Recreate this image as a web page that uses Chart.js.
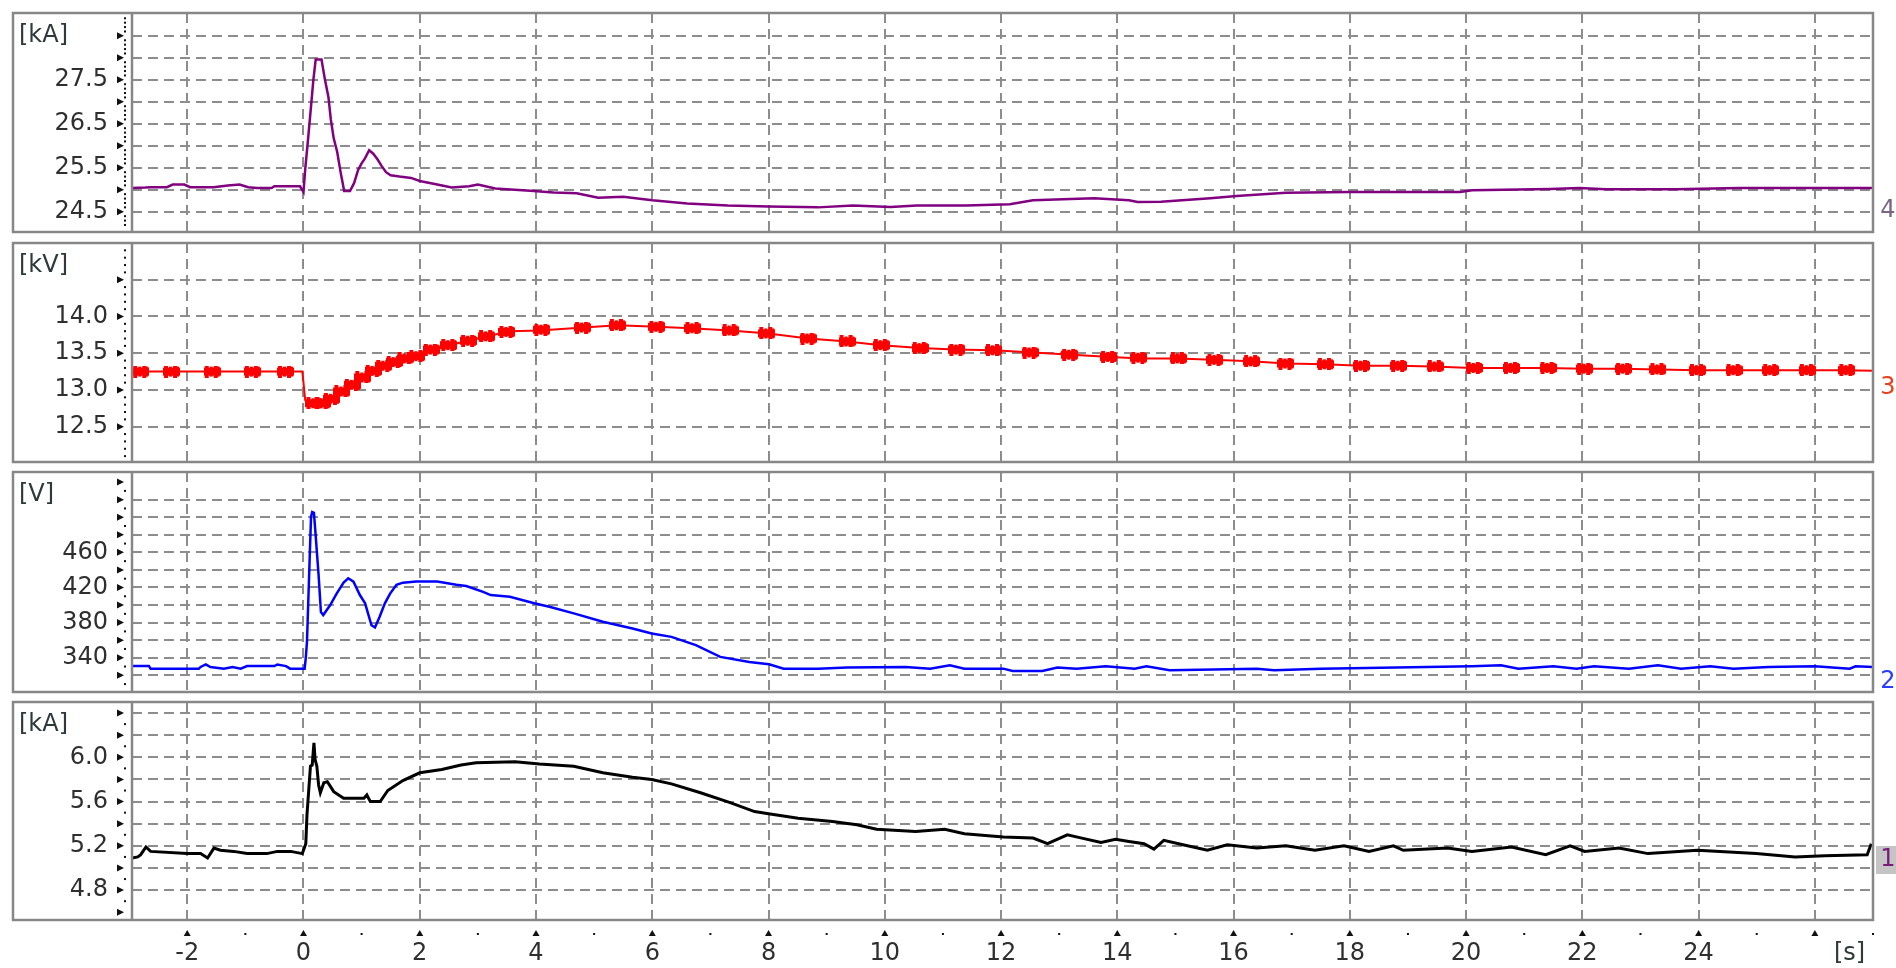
<!DOCTYPE html>
<html>
<head>
<meta charset="utf-8">
<script src="https://cdn.jsdelivr.net/npm/chart.js@4.4.0/dist/chart.umd.min.js"></script>
<style>
  html, body { margin: 0; padding: 0; background: #ffffff; }
  #wrap { position: relative; width: 1896px; height: 968px; overflow: hidden; background: #ffffff; }
  .panel { position: absolute; left: 0; }
  canvas { display: block; }
</style>
</head>
<body>
<div id="wrap">
  <div class="panel" style="top:10px"><canvas id="ch4" width="1896" height="225"></canvas></div>
  <div class="panel" style="top:240px"><canvas id="ch3" width="1896" height="225"></canvas></div>
  <div class="panel" style="top:469px"><canvas id="ch2" width="1896" height="226"></canvas></div>
  <div class="panel" style="top:699px"><canvas id="ch1" width="1896" height="269"></canvas></div>
</div>
<script>
// ---- time axis (s) ----
const timeTicks  = [-2, 0, 2, 4, 6, 8, 10, 12, 14, 16, 18, 20, 22, 24, 26];
const timeLabels = ['-2', '0', '2', '4', '6', '8', '10', '12', '14', '16', '18', '20', '22', '24', ''];
const timeMin = -2.95, timeMax = 27.0;

// ---- channel 4: current [kA] ----
const ch4Time = [-2.95,-2.72,-2.62,-2.35,-2.25,-2.05,-1.95,-1.55,-1.3,-1.1,-0.95,-0.8,-0.55,-0.5,-0.06,0.0,0.03,0.08,0.13,0.17,0.21,0.31,0.37,0.43,0.47,0.52,0.58,0.64,0.7,0.8,0.87,0.94,1.0,1.06,1.13,1.2,1.27,1.34,1.42,1.5,1.65,1.85,2.0,2.3,2.55,2.85,3.0,3.3,3.9,4.3,4.7,5.07,5.5,6.0,6.6,7.3,8.0,8.85,9.45,10.1,10.55,11.4,12.15,12.55,13.2,13.6,14.2,14.35,14.75,15.6,16.05,16.9,18.0,19.9,20.1,21.45,21.95,22.4,23.6,24.7,27.0];
const ch4Val  = [25.04,25.05,25.06,25.06,25.12,25.12,25.06,25.06,25.1,25.12,25.06,25.04,25.04,25.08,25.08,24.95,25.47,26.17,26.9,27.5,27.96,27.96,27.5,27.1,26.6,26.17,25.86,25.39,24.97,24.97,25.15,25.45,25.6,25.72,25.9,25.82,25.7,25.55,25.4,25.33,25.3,25.27,25.2,25.12,25.05,25.08,25.12,25.03,24.98,24.94,24.92,24.82,24.84,24.76,24.69,24.64,24.62,24.6,24.64,24.61,24.64,24.64,24.67,24.76,24.79,24.81,24.76,24.72,24.73,24.81,24.86,24.93,24.95,24.95,24.99,25.02,25.04,25.01,25.01,25.04,25.04];
const ch4Grid       = [24.5, 25, 25.5, 26, 26.5, 27, 27.5, 28, 28.5];
const ch4GridLabels = ['24.5', '', '25.5', '', '26.5', '', '27.5', '', ''];

// ---- channel 3: voltage [kV] ----
const ch3Time = [-2.95,-0.02,0.0,0.03,0.1,0.35,0.5,0.81,1.1,1.29,1.67,2.0,2.21,2.88,3.55,4.06,4.82,5.4,6.08,6.66,7.34,8.0,8.68,9.35,9.94,10.61,11.2,11.87,12.55,13.22,13.89,14.4,15.05,15.64,16.3,16.9,17.58,18.17,18.84,19.43,20.1,20.78,21.37,22.04,22.7,23.3,23.98,24.65,25.24,25.83,26.5,27.0];
const ch3Val  = [13.25,13.25,13.1,12.86,12.82,12.82,12.9,13.09,13.23,13.3,13.43,13.46,13.55,13.68,13.8,13.81,13.85,13.88,13.86,13.84,13.81,13.77,13.7,13.66,13.61,13.57,13.55,13.54,13.51,13.48,13.45,13.43,13.43,13.41,13.39,13.36,13.35,13.33,13.33,13.32,13.3,13.3,13.3,13.29,13.29,13.28,13.27,13.27,13.27,13.27,13.27,13.26];
// ripple bursts riding on the kV trace
const ch3BurstTime = [-2.8,-2.27,-1.57,-0.88,-0.31,0.18,0.32,0.48,0.66,0.84,1.02,1.2,1.38,1.56,1.75,1.95,2.2,2.5,2.84,3.15,3.5,4.1,4.8,5.4,6.08,6.7,7.34,7.97,8.68,9.35,9.94,10.61,11.24,11.87,12.5,13.18,13.85,14.37,15.05,15.68,16.31,16.9,17.58,18.2,18.84,19.47,20.14,20.78,21.41,22.04,22.71,23.3,23.98,24.61,25.24,25.87,26.55];
const ch3BurstVal  = [13.25,13.25,13.25,13.25,13.25,12.82,12.82,12.88,12.98,13.07,13.17,13.26,13.33,13.38,13.43,13.46,13.55,13.61,13.67,13.73,13.79,13.82,13.85,13.88,13.86,13.84,13.81,13.77,13.7,13.66,13.61,13.57,13.55,13.54,13.51,13.48,13.45,13.44,13.43,13.41,13.39,13.36,13.35,13.33,13.33,13.32,13.3,13.3,13.3,13.29,13.29,13.28,13.27,13.27,13.27,13.27,13.27];
const ch3Grid       = [12.5, 13, 13.5, 14, 14.5];
const ch3GridLabels = ['12.5', '13.0', '13.5', '14.0', ''];

// ---- channel 2: voltage [V] ----
const ch2Time = [-2.95,-2.66,-2.63,-1.8,-1.77,-1.68,-1.6,-1.37,-1.22,-1.08,-0.97,-0.5,-0.45,-0.3,-0.23,0.02,0.04,0.06,0.1,0.13,0.15,0.18,0.2,0.26,0.3,0.34,0.46,0.57,0.69,0.77,0.86,0.97,1.06,1.11,1.17,1.23,1.31,1.4,1.49,1.6,1.71,1.94,2.3,2.63,2.8,3.09,3.22,3.55,3.97,4.23,4.65,5.15,5.66,5.99,6.33,6.75,7.17,7.67,8.01,8.26,8.85,9.35,10.36,10.78,11.12,11.37,12.04,12.2,12.71,12.97,13.3,13.8,14.3,14.5,14.9,16.4,16.7,17.5,20.1,20.6,20.9,21.5,21.9,22.2,22.8,23.3,23.7,24.2,24.6,25.2,26.0,26.6,26.7,27.0];
const ch2Val  = [330.7,330.7,327.6,327.6,329.5,332.5,329.5,327.6,329.5,327.6,330.5,330.5,332.3,330.5,327.6,327.6,340,358,440,501,506,505,487.6,434,392,388.6,400,413,425.5,430.5,426.7,411.4,402,390.5,377,374.5,386.7,402,413,423,425.5,426.7,426.7,423,421.7,415,411.4,409.5,402,398,390.5,381,373.3,367.6,363.8,354.3,341,335.2,332.6,327.6,327.6,328.8,329.5,327.6,331.4,327.6,327.6,325,325,328.8,327.6,330.3,327.6,330.3,325.7,327.6,325.7,327.6,330.3,331.4,327.6,330.3,327.6,330.3,327.6,331.4,327.6,330.3,327.6,329.5,330.3,327.6,330.3,329.5];
const ch2Grid       = [320, 340, 360, 380, 400, 420, 440, 460, 480, 500, 520];
const ch2GridLabels = ['', '340', '', '380', '', '420', '', '460', '', '', ''];

// ---- channel 1: current [kA] ----
const ch1Time = [-2.95,-2.85,-2.8,-2.71,-2.63,-2.0,-1.77,-1.65,-1.54,-1.43,-1.2,-0.97,-0.63,-0.45,-0.22,-0.02,0.04,0.06,0.12,0.15,0.18,0.2,0.23,0.26,0.29,0.35,0.41,0.46,0.52,0.69,1.04,1.09,1.15,1.32,1.45,1.71,2.0,2.38,2.71,2.97,3.64,4.06,4.65,5.15,5.66,5.99,6.33,6.83,7.34,7.76,8.0,8.51,9.1,9.52,9.86,10.53,11.03,11.37,12.04,12.55,12.8,13.14,13.39,13.72,13.97,14.2,14.46,14.63,14.8,15.13,15.55,15.89,16.4,16.9,17.4,17.9,18.33,18.75,18.92,19.68,20.1,20.78,21.37,21.79,22.04,22.63,23.13,23.98,24.99,25.66,26.17,26.9,26.97];
const ch1Val  = [5.09,5.1,5.12,5.19,5.15,5.13,5.13,5.09,5.18,5.16,5.15,5.13,5.13,5.15,5.15,5.13,5.22,5.48,5.92,5.93,6.13,5.98,5.92,5.75,5.68,5.77,5.78,5.74,5.69,5.63,5.63,5.66,5.6,5.6,5.7,5.79,5.86,5.89,5.93,5.95,5.96,5.94,5.92,5.86,5.82,5.8,5.76,5.68,5.59,5.51,5.49,5.45,5.42,5.39,5.35,5.33,5.35,5.31,5.28,5.27,5.22,5.3,5.27,5.23,5.26,5.24,5.22,5.17,5.25,5.21,5.16,5.21,5.18,5.2,5.16,5.2,5.15,5.2,5.16,5.18,5.15,5.19,5.12,5.2,5.15,5.18,5.13,5.16,5.13,5.1,5.11,5.12,5.22];
const ch1Grid       = [4.8, 5.0, 5.2, 5.4, 5.6, 5.8, 6.0, 6.2, 6.4];
const ch1GridLabels = ['4.8', '', '5.2', '', '5.6', '', '6.0', '', ''];

// ---------------------------------------------------------------
Chart.defaults.font.family = '"DejaVu Sans", "Liberation Sans", sans-serif';

const FONT = '24px "DejaVu Sans", sans-serif';
const GRID_COLOR = '#8d8d8d';
const FRAME_COLOR = '#878787';
const FRAME_LEFT = 13;

const pairs = (t, v) => t.map((x, i) => ({ x, y: v[i] }));

// solid, ragged-edged block used for the ripple bursts on the kV trace
function burstSprite(color) {
  const c = document.createElement('canvas');
  c.width = 17; c.height = 12;
  const g = c.getContext('2d');
  g.fillStyle = color;
  g.fillRect(0, 2, 17, 8);
  g.fillRect(1, 0, 4, 12);
  g.fillRect(6, 1, 3, 10);
  g.fillRect(10, 0, 4, 12);
  g.fillRect(14, 1, 2, 10);
  return c;
}

// frame, unit caption, axis tick glyphs and channel tag for one panel
function panelDecor(p) {
  return {
    id: 'panelDecor',
    afterDraw(chart) {
      const { ctx, chartArea: a, scales: { x, y } } = chart;
      ctx.save();

      // frame + divider between caption column and plot
      ctx.strokeStyle = FRAME_COLOR;
      ctx.lineWidth = 2.5;
      ctx.strokeRect(FRAME_LEFT, a.top, a.right - FRAME_LEFT, a.bottom - a.top);
      ctx.beginPath();
      ctx.moveTo(a.left, a.top);
      ctx.lineTo(a.left, a.bottom);
      ctx.stroke();

      // unit caption
      ctx.font = FONT;
      ctx.fillStyle = '#2e3a3a';
      ctx.textAlign = 'left';
      ctx.textBaseline = 'middle';
      ctx.fillText(p.unit, 19, a.top + 23);

      // y-axis glyphs: arrow heads on major steps, dots on minor steps
      ctx.fillStyle = '#111111';
      const eps = p.minorStep / 100;
      const k0 = Math.ceil(y.min / p.minorStep), k1 = Math.floor(y.max / p.minorStep);
      for (let k = k0; k <= k1; k++) {
        const v = k * p.minorStep;
        const py = y.getPixelForValue(v);
        if (py < a.top + 3 || py > a.bottom - 3) continue;
        const r = v / p.majorStep;
        if (Math.abs(r - Math.round(r)) < eps) {
          ctx.beginPath();
          ctx.moveTo(117, py - 3.5);
          ctx.lineTo(124, py);
          ctx.lineTo(117, py + 3.5);
          ctx.closePath();
          ctx.fill();
        } else {
          ctx.fillRect(124, py - 1, 2, 2);
        }
      }

      // channel tag at right
      ctx.textAlign = 'center';
      if (p.tagBox) {
        ctx.fillStyle = p.tagBox;
        ctx.fillRect(a.right + 3, a.bottom - p.tagDy - 14, 24, 28);
      }
      ctx.fillStyle = p.tagColor;
      ctx.fillText(p.tag, a.right + 15, a.bottom - p.tagDy);

      // time axis glyphs and unit under the last panel
      if (p.timeAxis) {
        ctx.fillStyle = '#111111';
        for (let t = Math.ceil(timeMin); t <= Math.floor(timeMax); t++) {
          const px = x.getPixelForValue(t);
          const gy = a.bottom + 13;
          if (t % 2 === 0) {
            ctx.beginPath();
            ctx.moveTo(px, gy - 3);
            ctx.lineTo(px + 3.5, gy + 3);
            ctx.lineTo(px - 3.5, gy + 3);
            ctx.closePath();
            ctx.fill();
          } else {
            ctx.fillRect(px - 1, gy, 2, 2);
          }
        }
        ctx.fillStyle = '#2e3a3a';
        ctx.textAlign = 'left';
        ctx.fillText('[s]', 1834, a.bottom + 34);
      }
      ctx.restore();
    }
  };
}

function buildPanel(p) {
  const datasets = [{
    data: pairs(p.time, p.val),
    borderColor: p.color,
    borderWidth: p.lineWidth,
    pointRadius: 0,
    tension: 0,
    fill: false
  }];
  if (p.burstTime) {
    datasets.push({
      data: pairs(p.burstTime, p.burstVal),
      showLine: false,
      pointStyle: burstSprite(p.color),
      pointRadius: 6,
      borderWidth: 0
    });
  }
  return new Chart(document.getElementById(p.id), {
    type: 'line',
    data: { datasets },
    plugins: [panelDecor(p)],
    options: {
      responsive: false,
      animation: false,
      events: [],
      parsing: false,
      layout: { padding: { left: 0, right: 23, top: 3, bottom: p.timeAxis ? 0 : 3 }, autoPadding: false },
      plugins: { legend: { display: false }, tooltip: { enabled: false } },
      scales: {
        x: {
          type: 'linear',
          min: timeMin,
          max: timeMax,
          afterBuildTicks: (s) => { s.ticks = timeTicks.map(v => ({ value: v })); },
          afterFit: (s) => {
            s.height = p.timeAxis ? 48 : 0;
            s.paddingLeft = 0; s.paddingRight = 0; s.paddingTop = 0; s.paddingBottom = 0;
          },
          grid: { color: GRID_COLOR, lineWidth: 2, drawTicks: false },
          border: { display: false, dash: [10, 6] },
          ticks: {
            display: !!p.timeAxis,
            autoSkip: false,
            maxRotation: 0,
            padding: 19,
            color: '#2f2f2f',
            font: { size: 24 },
            callback: (v, i) => timeLabels[i]
          }
        },
        y: {
          type: 'linear',
          min: p.min,
          max: p.max,
          afterBuildTicks: (s) => { s.ticks = p.grid.map(v => ({ value: v })); },
          afterFit: (s) => {
            s.width = 132;
            s.paddingLeft = 0; s.paddingRight = 0; s.paddingTop = 0; s.paddingBottom = 0;
          },
          grid: { color: GRID_COLOR, lineWidth: 2, drawTicks: false },
          border: { display: false, dash: [10, 6] },
          ticks: {
            autoSkip: false,
            padding: 24,
            color: '#2f2f2f',
            font: { size: 24 },
            callback: (v, i) => p.gridLabels[i]
          }
        }
      }
    }
  });
}

buildPanel({ id: 'ch4', time: ch4Time, val: ch4Val, color: '#800080', lineWidth: 2.5,
  min: 24.04, max: 29.02, grid: ch4Grid, gridLabels: ch4GridLabels, majorStep: 0.5, minorStep: 0.1,
  unit: '[kA]', tag: '4', tagColor: '#7a6682', tagDy: 21 });

buildPanel({ id: 'ch3', time: ch3Time, val: ch3Val, burstTime: ch3BurstTime, burstVal: ch3BurstVal,
  color: '#ff0000', lineWidth: 2,
  min: 12.02, max: 15.0, grid: ch3Grid, gridLabels: ch3GridLabels, majorStep: 0.5, minorStep: 0.1,
  unit: '[kV]', tag: '3', tagColor: '#e8401c', tagDy: 74 });

buildPanel({ id: 'ch2', time: ch2Time, val: ch2Val, color: '#0000ff', lineWidth: 2.5,
  min: 301, max: 551.5, grid: ch2Grid, gridLabels: ch2GridLabels, majorStep: 20, minorStep: 10,
  unit: '[V]', tag: '2', tagColor: '#2a3cff', tagDy: 10 });

buildPanel({ id: 'ch1', time: ch1Time, val: ch1Val, color: '#000000', lineWidth: 3,
  min: 4.53, max: 6.50, grid: ch1Grid, gridLabels: ch1GridLabels, majorStep: 0.2, minorStep: 0.1,
  unit: '[kA]', tag: '1', tagColor: '#7a1a7a', tagBox: '#c4c4c4', tagDy: 60, timeAxis: true });
</script>
</body>
</html>
